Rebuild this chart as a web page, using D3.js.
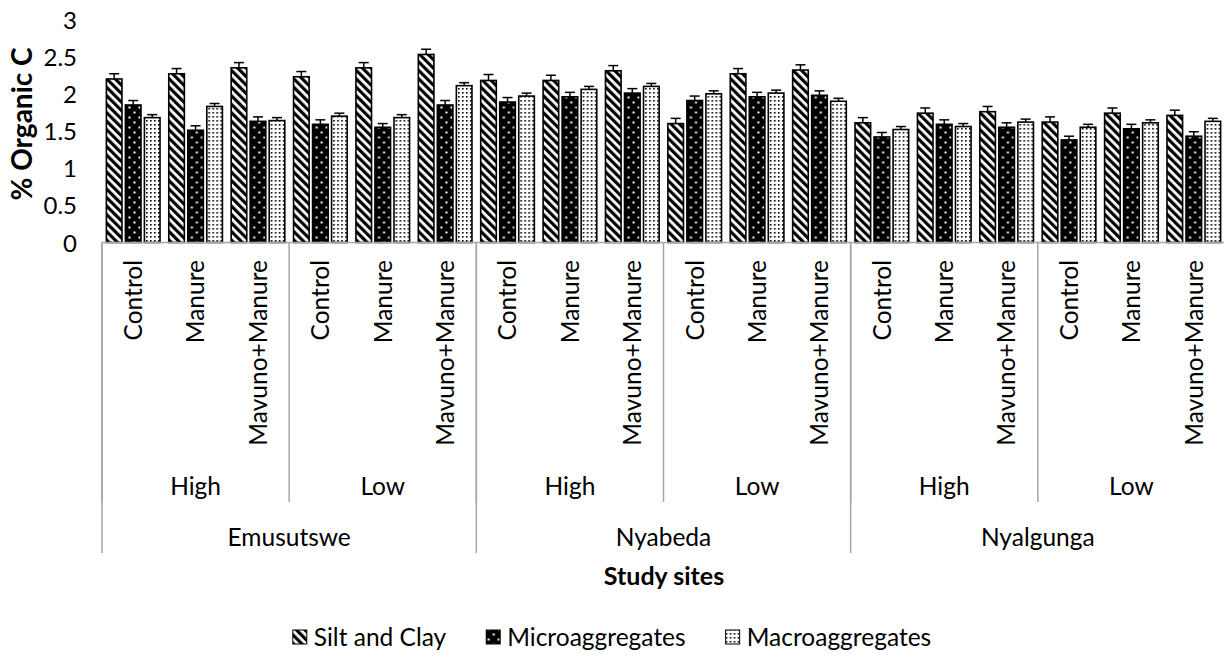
<!DOCTYPE html>
<html>
<head>
<meta charset="utf-8">
<script src="https://cdn.jsdelivr.net/npm/d3@7"></script>
<style>
  body { margin: 0; background: #fff; }
  text { font-family: Lato, "Open Sans", sans-serif; fill: #000; }
</style>
</head>
<body>
<div id="chart_div"></div>
<script>
/********
 * Data *
 ********/
var sites = ['Emusutswe', 'Nyabeda', 'Nyalgunga'];
var levels = ['High', 'Low'];
var treatments = ['Control', 'Manure', 'Mavuno+Manure'];
var seriesNames = ['Silt and Clay', 'Microaggregates', 'Macroaggregates'];
var yTicks = [0, 0.5, 1, 1.5, 2, 2.5, 3];

// one value per treatment, ordered site > level > treatment
var siltClay = [2.20, 2.27, 2.35, 2.23, 2.35, 2.53,
                2.18, 2.18, 2.31, 1.60, 2.27, 2.32,
                1.61, 1.74, 1.76, 1.62, 1.74, 1.71];
var microAgg = [1.85, 1.51, 1.63, 1.59, 1.55, 1.85,
                1.89, 1.96, 2.01, 1.91, 1.96, 1.98,
                1.42, 1.59, 1.55, 1.38, 1.53, 1.43];
var macroAgg = [1.68, 1.83, 1.64, 1.70, 1.68, 2.11,
                1.97, 2.06, 2.10, 2.00, 2.01, 1.90,
                1.52, 1.56, 1.62, 1.55, 1.61, 1.63];
var siltErr  = [0.07, 0.07, 0.07, 0.07, 0.07, 0.07,
                0.08, 0.07, 0.07, 0.07, 0.07, 0.07,
                0.07, 0.07, 0.07, 0.07, 0.07, 0.07];
var microErr = [0.06, 0.06, 0.06, 0.06, 0.05, 0.06,
                0.06, 0.06, 0.06, 0.06, 0.06, 0.06,
                0.06, 0.06, 0.06, 0.05, 0.06, 0.06];
var macroErr = [0.04, 0.04, 0.04, 0.04, 0.04, 0.04,
                0.04, 0.04, 0.04, 0.04, 0.04, 0.04,
                0.04, 0.04, 0.04, 0.04, 0.04, 0.04];

/*********
 * Setup *
 *********/
var gvWidth = 1224, gvHeight = 660;
var gvAxisColour = '#a6a6a6';
var gvFontSize = 24.5;

var svg = d3.select('#chart_div').append('svg')
  .attr('width', gvWidth)
  .attr('height', gvHeight);

// build the flat list of categories
var categories = [];
sites.forEach(function(s) {
  levels.forEach(function(l) {
    treatments.forEach(function(t) {
      categories.push({site: s, level: l, treatment: t});
    });
  });
});

var seriesData = [
  {name: seriesNames[0], values: siltClay, errs: siltErr, fill: 'url(#patSilt)'},
  {name: seriesNames[1], values: microAgg, errs: microErr, fill: 'url(#patMicro)'},
  {name: seriesNames[2], values: macroAgg, errs: macroErr, fill: 'url(#patMacro)'}
];

/************
 * Patterns *
 ************/
var defs = svg.append('defs');

var p1 = defs.append('pattern').attr('id', 'patSilt')
  .attr('patternUnits', 'userSpaceOnUse').attr('width', 6).attr('height', 6)
  .attr('patternTransform', 'rotate(-45)');
p1.append('rect').attr('width', 6).attr('height', 6).attr('fill', '#fff');
p1.append('rect').attr('width', 3.2).attr('height', 6).attr('fill', '#000');

var p2 = defs.append('pattern').attr('id', 'patMicro')
  .attr('patternUnits', 'userSpaceOnUse').attr('width', 10).attr('height', 10);
p2.append('rect').attr('width', 10).attr('height', 10).attr('fill', '#000');
p2.append('rect').attr('x', 1.5).attr('y', 1.5).attr('width', 2).attr('height', 2).attr('fill', '#fff');
p2.append('rect').attr('x', 6.5).attr('y', 6.5).attr('width', 2).attr('height', 2).attr('fill', '#fff');

var p3 = defs.append('pattern').attr('id', 'patMacro')
  .attr('patternUnits', 'userSpaceOnUse').attr('width', 4).attr('height', 4);
p3.append('rect').attr('width', 4).attr('height', 4).attr('fill', '#fff');
p3.append('rect').attr('width', 1.6).attr('height', 1.6).attr('fill', '#000');

/**********
 * Scales *
 **********/
var x0 = d3.scaleBand()
  .domain(d3.range(categories.length))
  .range([102, 1225])
  .padding(0);

var x1 = d3.scaleBand()
  .domain(seriesNames)
  .range([0, x0.bandwidth()])
  .paddingInner(0.18)
  .paddingOuter(0.23);

var y = d3.scaleLinear()
  .domain([0, 3])
  .range([242.5, 19.5]);

/*******
 * Bars *
 *******/
var catG = svg.selectAll('.cat')
  .data(categories)
  .enter().append('g')
  .attr('class', 'cat')
  .attr('transform', function(d, i) { return 'translate(' + x0(i) + ',0)'; });

catG.each(function(d, i) {
  var g = d3.select(this);
  seriesData.forEach(function(s) {
    var v = s.values[i];
    var bx = x1(s.name);
    g.append('rect')
      .attr('x', bx)
      .attr('y', y(v))
      .attr('width', x1.bandwidth())
      .attr('height', y(0) - y(v))
      .attr('fill', s.fill)
      .attr('stroke', '#000')
      .attr('stroke-width', 1.6);

    // error bar
    var cx = bx + x1.bandwidth() / 2;
    var e = s.errs[i];
    g.append('line')
      .attr('x1', cx).attr('x2', cx)
      .attr('y1', y(v)).attr('y2', y(v + e))
      .attr('stroke', '#000').attr('stroke-width', 1.5);
    g.append('line')
      .attr('x1', cx - 5).attr('x2', cx + 5)
      .attr('y1', y(v + e)).attr('y2', y(v + e))
      .attr('stroke', '#000').attr('stroke-width', 1.5);
  });
});

/********
 * Axes *
 ********/
var yAxis = d3.axisLeft(y).tickValues(yTicks).tickSize(0).tickPadding(0)
  .tickFormat(function(d) { return d; });
var yG = svg.append('g')
  .attr('transform', 'translate(77,0)')
  .call(yAxis);
yG.select('.domain').remove();
yG.selectAll('text')
  .style('font-family', 'Lato, sans-serif')
  .style('font-size', '24px')
  .attr('dy', '0.36em');

// x axis base line
svg.append('line')
  .attr('x1', x0.range()[0]).attr('x2', x0.range()[1])
  .attr('y1', y(0)).attr('y2', y(0))
  .attr('stroke', gvAxisColour).attr('stroke-width', 1.5);

// treatment labels (rotated)
svg.selectAll('.treatLabel')
  .data(categories)
  .enter().append('text')
  .attr('class', 'treatLabel')
  .attr('transform', function(d, i) {
    return 'translate(' + (x0(i) + x0.bandwidth() / 2) + ',260) rotate(-90)';
  })
  .attr('text-anchor', 'end')
  .attr('dy', '0.36em')
  .style('font-size', gvFontSize + 'px')
  .text(function(d) { return d.treatment; });

// level separators and labels
var nT = treatments.length;
var levelGroups = [];
sites.forEach(function(s, si) {
  levels.forEach(function(l, li) {
    levelGroups.push({label: l, start: (si * levels.length + li) * nT});
  });
});

levelGroups.forEach(function(lg) {
  var xs = x0(lg.start);
  var xe = x0(lg.start + nT - 1) + x0.bandwidth();
  svg.append('line')
    .attr('x1', xs).attr('x2', xs)
    .attr('y1', y(0)).attr('y2', 502)
    .attr('stroke', gvAxisColour).attr('stroke-width', 1.5);
  svg.append('text')
    .attr('x', (xs + xe) / 2)
    .attr('y', 495)
    .attr('text-anchor', 'middle')
    .style('font-size', gvFontSize + 'px')
    .text(lg.label);
});

// site separators and labels
var nS = levels.length * nT;
sites.forEach(function(s, si) {
  var xs = x0(si * nS);
  var xe = x0(si * nS + nS - 1) + x0.bandwidth();
  svg.append('line')
    .attr('x1', xs).attr('x2', xs)
    .attr('y1', y(0)).attr('y2', 553)
    .attr('stroke', gvAxisColour).attr('stroke-width', 1.5);
  svg.append('text')
    .attr('x', (xs + xe) / 2)
    .attr('y', 546)
    .attr('text-anchor', 'middle')
    .style('font-size', gvFontSize + 'px')
    .text(s);
});

/**********
 * Titles *
 **********/
svg.append('text')
  .attr('transform', 'translate(22,124) rotate(-90)')
  .attr('text-anchor', 'middle')
  .attr('dy', '0.36em')
  .style('font-size', '28px')
  .style('font-weight', 'bold')
  .text('% Organic C');

svg.append('text')
  .attr('x', 664)
  .attr('y', 585)
  .attr('text-anchor', 'middle')
  .style('font-size', '25px')
  .style('font-weight', 'bold')
  .text('Study sites');

/**********
 * Legend *
 **********/
// legend items laid out side by side and centred on the chart
var legendG = svg.append('g');
var lx = 0;
seriesData.forEach(function(d, i) {
  var item = legendG.append('g').attr('transform', 'translate(' + lx + ',0)');
  item.append('rect')
    .attr('y', -7)
    .attr('width', 14).attr('height', 14)
    .attr('fill', d.fill)
    .attr('stroke', '#000').attr('stroke-width', 1);
  var t = item.append('text')
    .attr('x', 21)
    .attr('dy', '0.36em')
    .style('font-size', gvFontSize + 'px')
    .text(d.name);
  lx += 21 + t.node().getComputedTextLength() + 40;
});
var lw = lx - 40;
legendG.attr('transform', 'translate(' + (612 - lw / 2) + ',637)');
</script>
</body>
</html>
